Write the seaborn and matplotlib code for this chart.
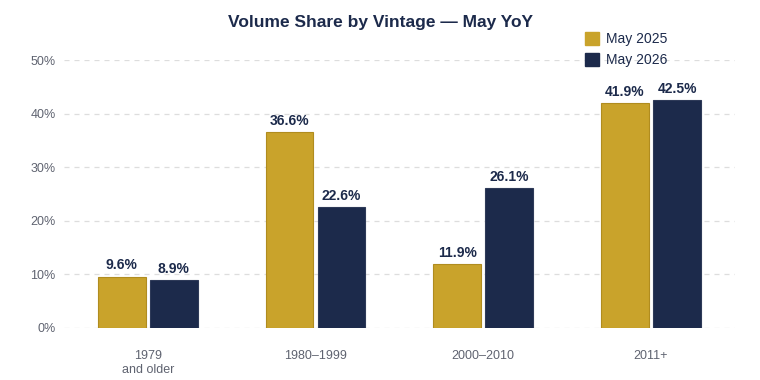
import pandas as pd
import matplotlib
matplotlib.use('Agg')
import matplotlib.pyplot as plt
import seaborn as sns
from matplotlib.ticker import FuncFormatter

# Data
vintages = ['1979\nand older', '1980\u20131999', '2000\u20132010', '2011+']
may_2025 = [9.6, 36.6, 11.9, 41.9]
may_2026 = [8.9, 22.6, 26.1, 42.5]
series = ['May 2025', 'May 2026']

df = pd.DataFrame({
    'Vintage': vintages * 2,
    'Share': may_2025 + may_2026,
    'Period': [series[0]] * 4 + [series[1]] * 4,
})

gold = '#C9A32B'
navy = '#1C2A4B'

sns.set_theme(style='white')
plt.rcParams['font.family'] = ['Liberation Sans', 'DejaVu Sans']

fig = plt.figure(figsize=(7.6, 3.8), dpi=100)
ax = fig.add_axes([0.084, 0.137, 0.883, 0.705])

sns.barplot(data=df, x='Vintage', y='Share', hue='Period', palette=[gold, navy],
            width=0.62, gap=0.08, ax=ax, legend=False, saturation=1)

edge_cols = ['#b08c1f', '#2e3a58']
for cont, ec in zip(ax.containers, edge_cols):
    for bar in cont:
        bar.set_edgecolor(ec)
        bar.set_linewidth(0.8)
    ax.bar_label(cont, labels=[f'{v:.1f}%' for v in cont.datavalues], padding=3,
                 fontsize=10, fontweight='bold', color=navy)

ax.set_ylim(0, 50)
ax.set_xlim(-0.5, 3.5)
ax.set_yticks([0, 10, 20, 30, 40, 50])
ax.yaxis.set_major_formatter(FuncFormatter(lambda v, p: f'{v:.0f}%'))
ax.grid(axis='y', color='#dddddd', linestyle=(0, (4, 4)), linewidth=0.9)
ax.set_axisbelow(True)
for s in ax.spines.values():
    s.set_visible(False)
ax.tick_params(axis='both', length=0, labelsize=9, labelcolor='#5f6370')
ax.tick_params(axis='y', pad=6)
ax.tick_params(axis='x', pad=16)
ax.set_xlabel('')
ax.set_ylabel('')

fig.text(0.5, 0.942, 'Volume Share by Vintage \u2014 May YoY', ha='center', va='center',
         fontsize=12.5, fontweight='bold', color=navy)

handles = [plt.Rectangle((0, 0), 1, 1, color=gold), plt.Rectangle((0, 0), 1, 1, color=navy)]
fig.legend(handles, series, loc='upper left', bbox_to_anchor=(0.762, 0.93), frameon=False,
           fontsize=10, labelcolor=navy, handlelength=1.0, handleheight=1.0,
           handletextpad=0.5, labelspacing=0.5, borderaxespad=0)

fig.savefig('out.png', dpi=100, facecolor='white')
